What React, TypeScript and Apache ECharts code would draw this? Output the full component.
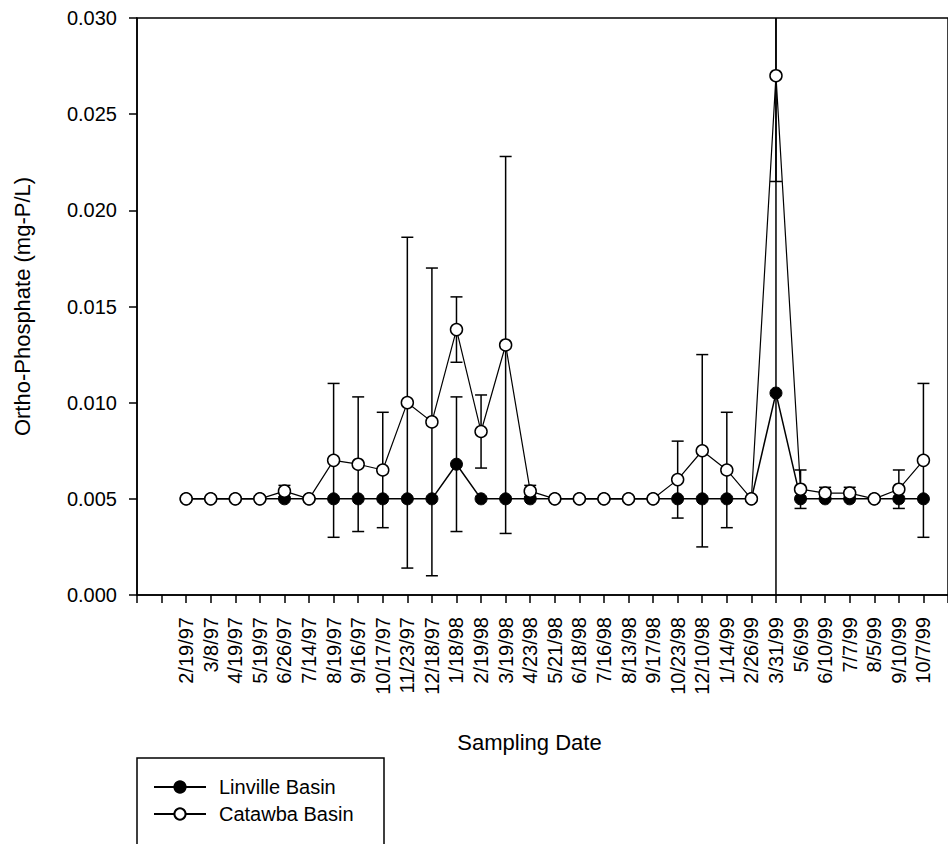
import React, { useEffect, useRef } from "react";
import * as echarts from "echarts";

// Sampling dates (x positions 1..31; position 0 is an empty leading slot)
const dates = [
  "2/19/97", "3/8/97", "4/19/97", "5/19/97", "6/26/97", "7/14/97", "8/19/97",
  "9/16/97", "10/17/97", "11/23/97", "12/18/97", "1/18/98", "2/19/98", "3/19/98",
  "4/23/98", "5/21/98", "6/18/98", "7/16/98", "8/13/98", "9/17/98", "10/23/98",
  "12/10/98", "1/14/99", "2/26/99", "3/31/99", "5/6/99", "6/10/99", "7/7/99",
  "8/5/99", "9/10/99", "10/7/99",
];

// Mean ortho-phosphate (mg-P/L)
const linville = [
  0.005, 0.005, 0.005, 0.005, 0.005, 0.005, 0.005, 0.005, 0.005, 0.005, 0.005,
  0.0068, 0.005, 0.005, 0.005, 0.005, 0.005, 0.005, 0.005, 0.005, 0.005, 0.005,
  0.005, 0.005, 0.0105, 0.005, 0.005, 0.005, 0.005, 0.005, 0.005,
];
const catawba = [
  0.005, 0.005, 0.005, 0.005, 0.0054, 0.005, 0.007, 0.0068, 0.0065, 0.01, 0.009,
  0.0138, 0.0085, 0.013, 0.0054, 0.005, 0.005, 0.005, 0.005, 0.005, 0.006, 0.0075,
  0.0065, 0.005, 0.027, 0.0055, 0.0053, 0.0053, 0.005, 0.0055, 0.007,
];

// Standard deviations (error bar half-lengths)
const linvilleErr = [
  0, 0, 0, 0, 0, 0, 0, 0, 0, 0, 0,
  0.0035, 0, 0, 0, 0, 0, 0, 0, 0, 0, 0,
  0, 0, 0.021, 0, 0, 0, 0, 0, 0,
];
const catawbaErr = [
  0, 0, 0, 0, 0.0003, 0, 0.004, 0.0035, 0.003, 0.0086, 0.008,
  0.0017, 0.0019, 0.0098, 0.0003, 0, 0, 0, 0, 0, 0.002, 0.005,
  0.003, 0, 0.0055, 0.001, 0.0003, 0.0003, 0, 0.001, 0.004,
];

const yTicks = [0, 0.005, 0.01, 0.015, 0.02, 0.025, 0.03];

const FONT = "Liberation Sans";

function errorData(vals: number[], errs: number[]) {
  const out: number[][] = [];
  vals.forEach((v, i) => {
    if (errs[i] > 0) out.push([i + 1, v - errs[i], v + errs[i]]);
  });
  return out;
}

function renderErrorBar(params: any, api: any) {
  const x = api.value(0);
  const lo = api.value(1);
  const hi = api.value(2);
  const top = api.coord([x, hi]);
  const bot = api.coord([x, lo]);
  const cs = params.coordSys;
  const yMin = cs.y;
  const yMax = cs.y + cs.height;
  const px = top[0];
  const y1 = Math.max(top[1], yMin);
  const y2 = Math.min(bot[1], yMax);
  const half = 6;
  const style = { stroke: "#000", lineWidth: 1.5 };
  const children: any[] = [
    { type: "line", shape: { x1: px, y1, x2: px, y2 }, style },
  ];
  if (top[1] >= yMin) {
    children.push({ type: "line", shape: { x1: px - half, y1: top[1], x2: px + half, y2: top[1] }, style });
  }
  if (bot[1] <= yMax) {
    children.push({ type: "line", shape: { x1: px - half, y1: bot[1], x2: px + half, y2: bot[1] }, style });
  }
  return { type: "group", children };
}

export default function App() {
  const ref = useRef<HTMLDivElement>(null);

  useEffect(() => {
    if (!ref.current) return;
    const chart = echarts.init(ref.current, null, { renderer: "svg" });
    chart.setOption({
      animation: false,
      backgroundColor: "#fff",
      textStyle: { fontFamily: FONT, color: "#000" },
      grid: {
        left: 137,
        top: 18,
        bottom: 249,
        right: -10,
        show: true,
        borderColor: "#000",
        borderWidth: 1.5,
        backgroundColor: "transparent",
      },
      legend: {
        orient: "vertical",
        left: 153,
        top: 777,
        padding: 0,
        itemWidth: 52,
        itemHeight: 14,
        itemGap: 7,
        data: ["Linville Basin", "Catawba Basin"],
        textStyle: {
          fontFamily: FONT,
          fontSize: 20,
          lineHeight: 20,
          color: "#000",
          padding: [0, 0, 0, 8],
        },
      },
      xAxis: {
        type: "value",
        min: -1,
        max: 32,
        interval: 1,
        name: "Sampling Date",
        nameLocation: "middle",
        nameGap: 136,
        nameTextStyle: {
          fontFamily: FONT,
          fontSize: 22,
          color: "#000",
          padding: [0, 26, 0, 0],
        },
        axisLine: { onZero: false, lineStyle: { color: "#000", width: 1.5 } },
        axisTick: { show: true, inside: false, length: 8, lineStyle: { color: "#000", width: 1.5 } },
        splitLine: { show: false },
        axisLabel: {
          rotate: 90,
          margin: 22,
          fontFamily: FONT,
          fontSize: 20,
          color: "#000",
          showMinLabel: true,
          showMaxLabel: true,
          formatter: (v: number) => dates[v - 1] ?? "",
        },
      },
      yAxis: {
        type: "value",
        min: 0,
        max: 0.03,
        interval: 0.005,
        name: "Ortho-Phosphate (mg-P/L)",
        nameLocation: "middle",
        nameGap: 104,
        nameTextStyle: { fontFamily: FONT, fontSize: 22, color: "#000" },
        axisLine: { show: true, onZero: false, lineStyle: { color: "#000", width: 1.5 } },
        axisTick: { show: true, inside: false, length: 8, lineStyle: { color: "#000", width: 1.5 } },
        splitLine: { show: false },
        axisLabel: {
          margin: 20,
          fontFamily: FONT,
          fontSize: 20,
          color: "#000",
          formatter: (v: number) => {
            const t = yTicks.find((k) => Math.abs(k - v) < 1e-9);
            return (t ?? v).toFixed(3);
          },
        },
      },
      series: [
        {
          type: "custom",
          name: "Linville SD",
          renderItem: renderErrorBar,
          data: errorData(linville, linvilleErr),
          encode: { x: 0, y: [1, 2] },
          z: 1,
          silent: true,
        },
        {
          type: "custom",
          name: "Catawba SD",
          renderItem: renderErrorBar,
          data: errorData(catawba, catawbaErr),
          encode: { x: 0, y: [1, 2] },
          z: 1,
          silent: true,
        },
        {
          type: "line",
          name: "Linville Basin",
          data: linville.map((v, i) => [i + 1, v]),
          symbol: "circle",
          symbolSize: 12,
          showAllSymbol: true,
          lineStyle: { color: "#000", width: 1.5 },
          itemStyle: { color: "#000", borderColor: "#000", borderWidth: 1 },
          z: 2,
        },
        {
          type: "line",
          name: "Catawba Basin",
          data: catawba.map((v, i) => [i + 1, v]),
          symbol: "circle",
          symbolSize: 12,
          showAllSymbol: true,
          lineStyle: { color: "#000", width: 1.2 },
          itemStyle: { color: "#fff", borderColor: "#000", borderWidth: 1.5 },
          z: 3,
        },
      ],
      graphic: [
        {
          type: "rect",
          shape: { x: 137, y: 758, width: 247, height: 120 },
          style: { fill: "none", stroke: "#000", lineWidth: 1.5 },
          silent: true,
        },
      ],
    });
    return () => chart.dispose();
  }, []);

  return (
    <div
      ref={ref}
      style={{ position: "fixed", left: 0, top: 0, width: 948, height: 844, background: "#fff" }}
    />
  );
}
